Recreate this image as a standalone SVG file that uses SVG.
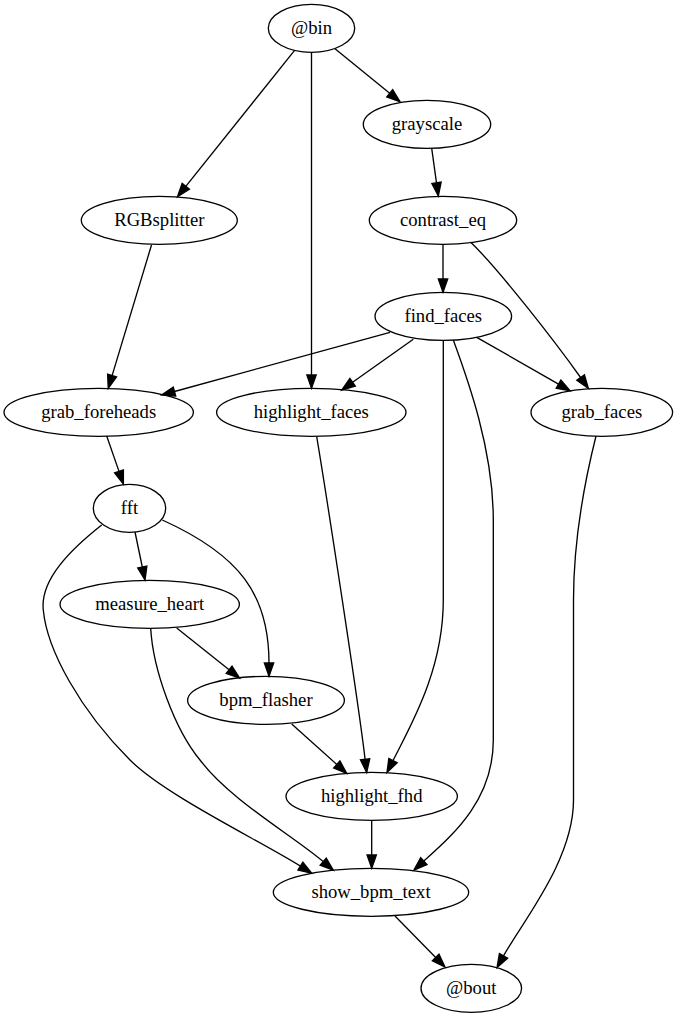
<svg xmlns="http://www.w3.org/2000/svg" width="678" height="1019" viewBox="0 0 678 1019">
<style>
.n ellipse{fill:none;stroke:#000;stroke-width:1.33}
.n text{font-family:"Liberation Serif","Times New Roman",serif;font-size:18.67px;text-anchor:middle;fill:#000}
#edges path{fill:none;stroke:#000;stroke-width:1.33;marker-end:url(#arr)}
</style>
<defs>
<marker id="arr" markerUnits="userSpaceOnUse" markerWidth="20" markerHeight="12" refX="0" refY="0" orient="auto" overflow="visible" viewBox="-1 -6 16 12">
<path d="M0,-4.67 L13.33,0 L0,4.67 Z" fill="#000" stroke="#000" stroke-width="1.33"/>
</marker>
</defs>
<rect width="678" height="1019" fill="#fff"/>
<g id="edges">
<path d="M335,48.7 L389.7,93.3"/>
<path d="M294.4,50.7 L185.8,186.3"/>
<path d="M311.5,52.3 L311.5,375"/>
<path d="M431.7,148.3 L436.5,182.8"/>
<path d="M443,244.3 L443,279"/>
<path d="M470.5,242 C500.5,271 557.4,345 580.6,377.5"/>
<path d="M151.5,245 L112.1,375.6"/>
<path d="M390,332.3 L174.5,391.5"/>
<path d="M413.3,339.3 L352.6,382.3"/>
<path d="M476.7,337.3 L558.5,384.1"/>
<path d="M443.3,340.3 L443.3,600 C443.3,670 411,724.9 393,760.6"/>
<path d="M453.3,340 C468,380 493.3,450 493.3,520 L493.3,740 C493.3,800 453.4,834.3 423.8,861.1"/>
<path d="M106.7,436 L119,471.4"/>
<path d="M316.7,436.7 C326.7,496.7 358,699.7 365.1,759.3"/>
<path d="M596,436 C585,480 573.5,540 573.5,600 L573.5,800 C573.5,860 522.9,920.9 503.5,955.9"/>
<path d="M135,532 L142.3,567"/>
<path d="M162.3,520 C240,555 269,595 269,663"/>
<path d="M176.7,628 L229.1,669.7"/>
<path d="M150.7,628.3 C153,670 175,730 200,760 C230,800 292.8,835.6 323.2,861.6"/>
<path d="M101.7,525 C70,550 40,580 43.3,610 C47,650 80,710 130,760 C165,795 257.9,839.6 300.4,866.1"/>
<path d="M291.7,724 L336.8,764.4"/>
<path d="M371.7,820.3 L371.7,855"/>
<path d="M395,916 L435.7,957.5"/>
</g>
<g id="bin" class="n"><ellipse cx="311.5" cy="28.3" rx="43.2" ry="24"/><text x="311.5" y="33.8">@bin</text></g>
<g id="grayscale" class="n"><ellipse cx="427" cy="124.3" rx="63.7" ry="24"/><text x="427" y="129.8">grayscale</text></g>
<g id="RGBsplitter" class="n"><ellipse cx="159.3" cy="220.3" rx="78" ry="24"/><text x="159.3" y="225.8">RGBsplitter</text></g>
<g id="contrast_eq" class="n"><ellipse cx="443" cy="220.3" rx="73.7" ry="24"/><text x="443" y="225.8">contrast_eq</text></g>
<g id="find_faces" class="n"><ellipse cx="443.3" cy="316.3" rx="68.3" ry="24"/><text x="443.3" y="321.8">find_faces</text></g>
<g id="grab_foreheads" class="n"><ellipse cx="98.7" cy="412.3" rx="94.7" ry="24"/><text x="98.7" y="417.8">grab_foreheads</text></g>
<g id="highlight_faces" class="n"><ellipse cx="311.3" cy="412.3" rx="94.7" ry="24"/><text x="311.3" y="417.8">highlight_faces</text></g>
<g id="grab_faces" class="n"><ellipse cx="601.8" cy="412.3" rx="70.8" ry="24"/><text x="601.8" y="417.8">grab_faces</text></g>
<g id="fft" class="n"><ellipse cx="129.5" cy="508.3" rx="36.2" ry="24"/><text x="129.5" y="513.8">fft</text></g>
<g id="measure_heart" class="n"><ellipse cx="149.7" cy="604.3" rx="89.7" ry="24"/><text x="149.7" y="609.8">measure_heart</text></g>
<g id="bpm_flasher" class="n"><ellipse cx="266" cy="700.3" rx="78.4" ry="24"/><text x="266" y="705.8">bpm_flasher</text></g>
<g id="highlight_fhd" class="n"><ellipse cx="371.7" cy="796.3" rx="85.7" ry="24"/><text x="371.7" y="801.8">highlight_fhd</text></g>
<g id="show_bpm_text" class="n"><ellipse cx="371" cy="892.3" rx="97.7" ry="24"/><text x="371" y="897.8">show_bpm_text</text></g>
<g id="bout" class="n"><ellipse cx="471.3" cy="988.3" rx="50.3" ry="24"/><text x="471.3" y="993.8">@bout</text></g>
</svg>
